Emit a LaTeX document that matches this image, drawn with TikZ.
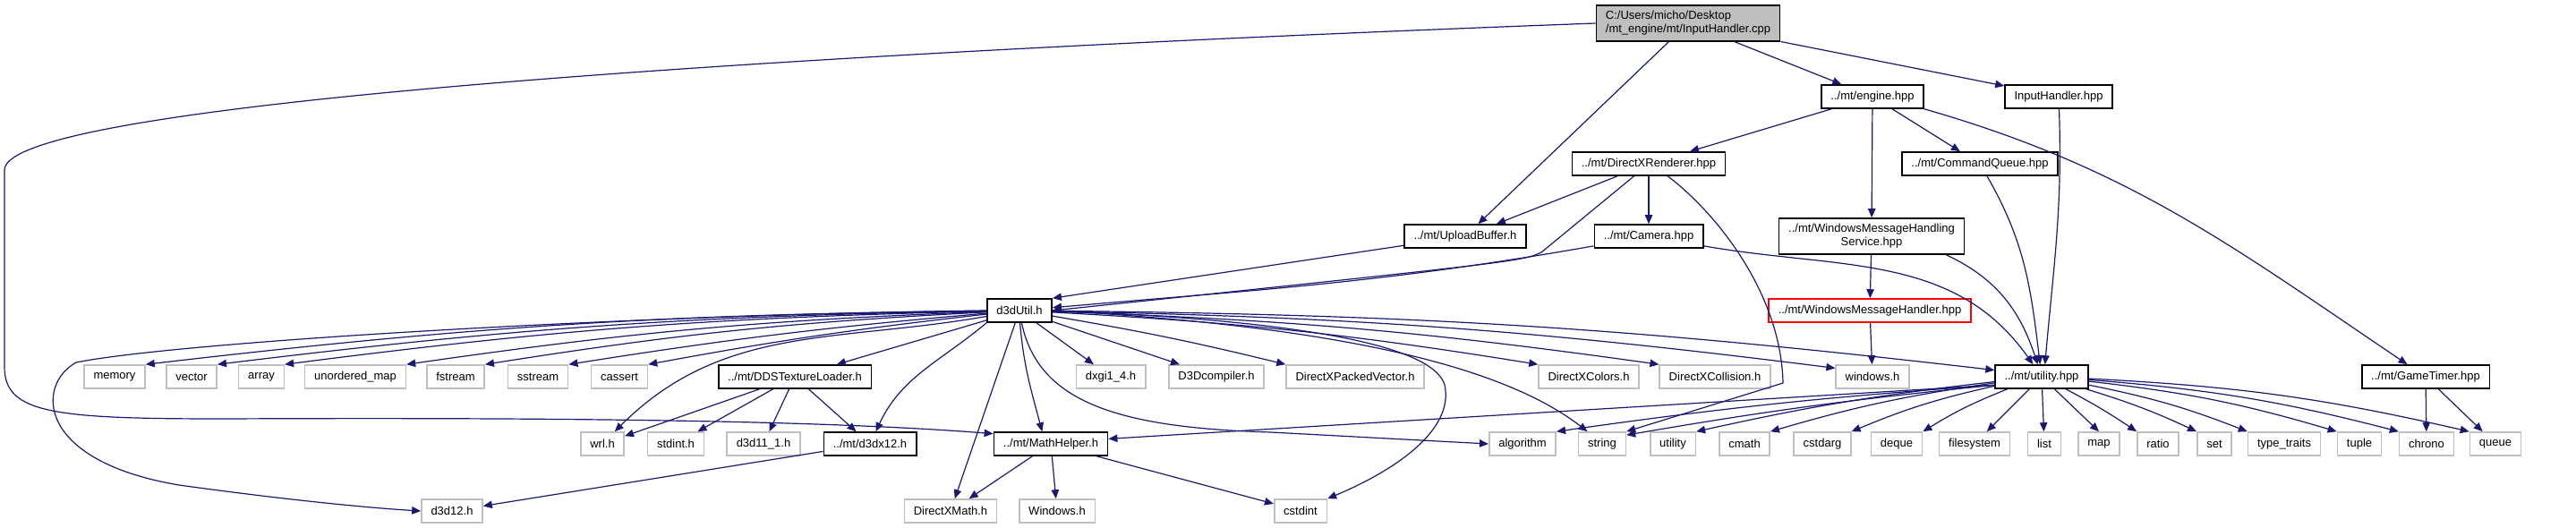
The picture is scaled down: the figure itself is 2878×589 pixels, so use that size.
\documentclass[tikz,border=0pt]{standalone}
\usepackage{fontspec}
\setmainfont{Liberation Sans}
\usetikzlibrary{arrows.meta}
\definecolor{edgeblue}{RGB}{25,25,112}
\definecolor{nodegrey}{RGB}{191,191,191}

\begin{document}
\begin{tikzpicture}[>={Triangle[length=2.5pt, width=2.1pt]}, x=0.25pt, y=-0.25pt]
	\tikzstyle{format} = [draw, line width=0.4pt, fill=white, minimum height=6.5pt,
	inner xsep=2.625pt, inner ysep=0.5pt, font=\fontsize{3.25}{3.8}\selectfont]
	\tikzstyle{sysformat} = [format, draw=nodegrey]
	\tikzstyle{redformat} = [format, draw=red]
	\tikzstyle{twoline} = [format, minimum height=10pt]
	\tikzstyle{dep} = [->, edgeblue, line width=0.3pt]

	\useasboundingbox (0,0) rectangle (2878,589);

	% project headers
	\path
		node[twoline, fill=nodegrey, align=left] (root) at (1886,26) {C:/Users/micho/Desktop\\/mt\_engine/mt/InputHandler.cpp}
		node[format] (engine) at (2092,108) {../mt/engine.hpp}
		node[format] (inhpp) at (2300,108) {InputHandler.hpp}
		node[format] (dxr) at (1842,183) {../mt/DirectXRenderer.hpp}
		node[format] (cmdq) at (2212,183) {../mt/CommandQueue.hpp}
		node[format] (upbuf) at (1637,264) {../mt/UploadBuffer.h}
		node[format] (camera) at (1842,264) {../mt/Camera.hpp}
		node[twoline, align=center] (wmhs) at (2091,264) {../mt/WindowsMessageHandling\\Service.hpp}
		node[redformat] (wmh) at (2089,347) {../mt/WindowsMessageHandler.hpp}
		node[format] (d3du) at (1139,347) {d3dUtil.h}
		node[format] (ddsl) at (888,421) {../mt/DDSTextureLoader.h}
		node[format] (util) at (2281,421) {../mt/utility.hpp}
		node[format] (gtimer) at (2710,421) {../mt/GameTimer.hpp}
		node[format] (d3dx12) at (972,496) {../mt/d3dx12.h}
		node[format] (mathh) at (1174,496) {../mt/MathHelper.h}
		;

	% system headers
	\path
		node[sysformat] (memory) at (128,421) {memory}
		node[sysformat] (vector) at (214,421) {vector}
		node[sysformat] (array) at (292,421) {array}
		node[sysformat] (umap) at (397,421) {unordered\_map}
		node[sysformat] (fstream) at (509,421) {fstream}
		node[sysformat] (sstream) at (601,421) {sstream}
		node[sysformat] (cassert) at (692,421) {cassert}
		node[sysformat] (dxgi) at (1241,421) {dxgi1\_4.h}
		node[sysformat] (d3dc) at (1359,421) {D3Dcompiler.h}
		node[sysformat] (dxpv) at (1514,421) {DirectXPackedVector.h}
		node[sysformat] (dxcolors) at (1775,421) {DirectXColors.h}
		node[sysformat] (dxcoll) at (1916,421) {DirectXCollision.h}
		node[sysformat] (winlow) at (2092,421) {windows.h}

		node[sysformat] (wrl) at (673,496) {wrl.h}
		node[sysformat] (stdint) at (755,496) {stdint.h}
		node[sysformat] (d3d11) at (853,496) {d3d11\_1.h}
		node[sysformat] (algo) at (1701,496) {algorithm}
		node[sysformat] (str) at (1790,496) {string}
		node[sysformat] (utilh) at (1869,496) {utility}
		node[sysformat] (cmath) at (1949,496) {cmath}
		node[sysformat] (cstdarg) at (2036,496) {cstdarg}
		node[sysformat] (deque) at (2119,496) {deque}
		node[sysformat] (fsys) at (2206,496) {filesystem}
		node[sysformat] (list) at (2284,496) {list}
		node[sysformat] (map) at (2345,496) {map}
		node[sysformat] (ratio) at (2411,496) {ratio}
		node[sysformat] (set) at (2474,496) {set}
		node[sysformat] (ttraits) at (2552,496) {type\_traits}
		node[sysformat] (tuple) at (2636,496) {tuple}
		node[sysformat] (chrono) at (2711,496) {chrono}
		node[sysformat] (queue) at (2788,496) {queue}

		node[sysformat] (d3d12) at (505,571) {d3d12.h}
		node[sysformat] (dxmath) at (1062,571) {DirectXMath.h}
		node[sysformat] (winup) at (1181,571) {Windows.h}
		node[sysformat] (cstdint) at (1453,571) {cstdint}
		;

	\path[dep]
		(root) edge (engine)
		(root) edge (inhpp)
		(root) edge (upbuf)
		(engine) edge (dxr)
		(engine) edge (wmhs)
		(engine) edge (cmdq)
		(engine.south east) edge[out=-16, in=146] (gtimer)
		(inhpp) edge[out=-88, in=85] (util.75)
		(cmdq) edge[out=-60, in=97] (util)
		(wmhs) edge (wmh)
		(wmhs.-14) edge[out=-25, in=108] (util)
		(wmh) edge (winlow)
		(dxr) edge (upbuf)
		(dxr) edge (camera)
		(camera) edge[out=190, in=5] (d3du)
		(camera) edge[out=-10, in=125] (util)
		(upbuf) edge (d3du.north east)

		(d3du) edge[bend right=3] (memory.north east)
		(d3du) edge[bend right=3] (vector.north east)
		(d3du) edge[bend right=3] (array.north east)
		(d3du) edge[bend right=3] (umap.north east)
		(d3du) edge[bend right=3] (fstream.north east)
		(d3du) edge[bend right=2] (sstream.north east)
		(d3du) edge[bend right=2] (cassert.north east)
		(d3du) edge[out=190, in=45] (wrl)
		(d3du) edge (ddsl)
		(d3du.south west) edge[out=-140, in=65] (d3dx12)
		(d3du) edge (dxmath)
		(d3du.-88) edge[out=-85, in=105] (mathh.125)
		(d3du) edge (dxgi)
		(d3du) edge (d3dc)
		(d3du) edge[bend left=2] (dxpv.north west)
		(d3du) edge[bend left=3] (dxcolors.north west)
		(d3du) edge[bend left=3] (dxcoll.north west)
		(d3du) edge[bend left=3] (winlow.167)
		(d3du) edge[bend left=3] (util.172)

		(ddsl) edge (wrl)
		(ddsl) edge (stdint)
		(ddsl) edge (d3d11)
		(ddsl) edge (d3dx12)
		(d3dx12) edge (d3d12)
		(mathh) edge (dxmath)
		(mathh) edge (winup)
		(mathh) edge (cstdint)

		(util.190) edge (mathh.5)
		(util.190) edge[bend right=2] (algo.north east)
		(util.190) edge[bend right=2] (str.20)
		(util) edge[bend right=3] (utilh.north east)
		(util) edge[bend right=4] (cmath.north east)
		(util) edge[bend right=5] (cstdarg.north east)
		(util) edge[bend right=5] (deque.north east)
		(util) edge (fsys)
		(util) edge (list)
		(util) edge (map.north)
		(util) edge[bend left=3] (ratio.north west)
		(util) edge[bend left=4] (set.north west)
		(util) edge[bend left=5] (ttraits.north west)
		(util) edge[bend left=5] (tuple.north west)
		(util) edge[bend left=5] (chrono.north west)
		(util) edge[bend left=5] (queue.north west)
		(gtimer) edge (chrono)
		(gtimer) edge (queue)
		;

	% long curved includes
	\draw[dep] (root.west) .. controls (1000,55) and (5,110) .. (5,190) -- (5,410)
		.. controls (5,462) and (60,468) .. (250,468)
		.. controls (700,466) and (950,472) .. (mathh.170);
	\draw[dep] (d3du.west) .. controls (700,352) and (200,382) .. (85,405)
		.. controls (40,430) and (40,515) .. (200,542)
		.. controls (330,560) and (420,568) .. (d3d12.west);
	\draw[dep] (d3du.east) .. controls (1450,358) and (1600,385) .. (1614,430)
		.. controls (1625,480) and (1560,525) .. (cstdint.north east);
	\draw[dep] (d3du.-80) .. controls (1160,450) and (1250,478) .. (1420,483) -- (algo.west);
	\draw[dep] (d3du.east) .. controls (1500,365) and (1680,410) .. (str.140);
	\draw[dep] (dxr.-140) -- (1722,282) .. controls (1700,292) .. (d3du.east);
	\draw[dep] (dxr.-33) .. controls (1920,240) and (1990,330) .. (1992,428) -- (str.north east);
\end{tikzpicture}
\end{document}
